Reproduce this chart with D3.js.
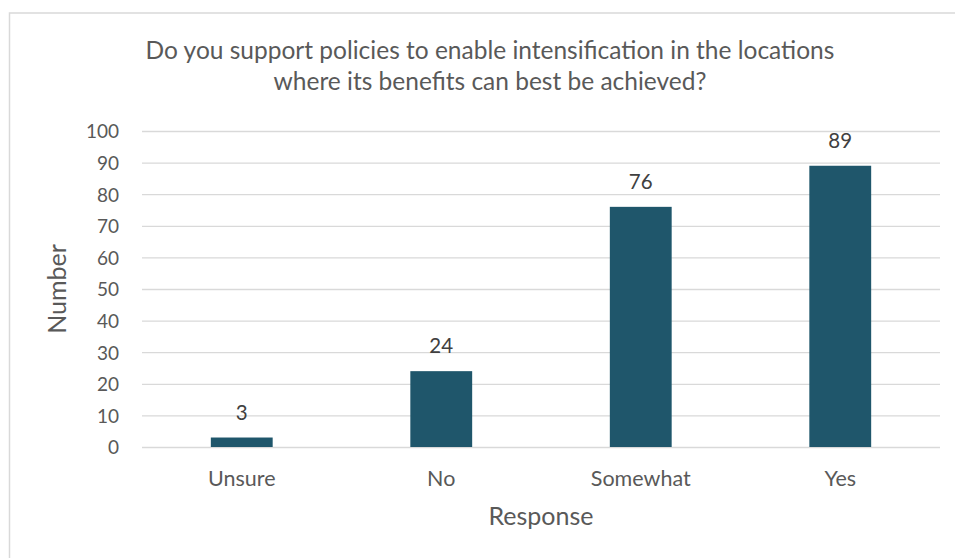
<!DOCTYPE html>
<html>
<head>
<meta charset="utf-8">
<script src="https://cdn.jsdelivr.net/npm/d3@7"></script>
<style>
  html, body { margin: 0; padding: 0; background: #fff; }
  svg { display: block; font-family: Lato, "Open Sans", sans-serif; }
</style>
</head>
<body>
<svg id="chart" width="955" height="558"></svg>
<script>
// Survey responses
const categories = ["Unsure", "No", "Somewhat", "Yes"];
const counts = [3, 24, 76, 89];
const yTicks = [0, 10, 20, 30, 40, 50, 60, 70, 80, 90, 100];
const titleLines = [
  "Do you support policies to enable intensification in the locations",
  "where its benefits can best be achieved?"
];

const svg = d3.select("#chart");
const W = 955, H = 558;
const plot = { left: 142, right: 940, top: 131, bottom: 447 };
const textColor = "#595959";
const barColor = "#1F566B";
const gridColor = "#D9D9D9";

// Chart area frame (extends past the right and bottom edges)
svg.append("rect")
  .attr("x", 9.5).attr("y", 13)
  .attr("width", W + 20).attr("height", H + 20)
  .attr("fill", "#fff")
  .attr("stroke", "#D9D9D9").attr("stroke-width", 1.5);

const x = d3.scaleBand()
  .domain(categories)
  .range([plot.left, plot.right])
  .paddingInner(0.69).paddingOuter(0.345);

const y = d3.scaleLinear().domain([0, 100]).range([plot.bottom, plot.top]);

// Horizontal gridlines + y tick labels
const yAxis = d3.axisLeft(y)
  .tickValues(yTicks)
  .tickSize(-(plot.right - plot.left))
  .tickPadding(23);

const gy = svg.append("g")
  .attr("transform", `translate(${plot.left},0)`)
  .call(yAxis);
gy.select(".domain").remove();
gy.selectAll(".tick line").attr("stroke", gridColor).attr("stroke-width", 1.3);
gy.selectAll(".tick text")
  .attr("fill", textColor)
  .attr("font-size", 19)
  .attr("font-family", "Lato, sans-serif")
  .attr("dy", "0.36em");

// Bars
svg.append("g").selectAll("rect")
  .data(categories)
  .join("rect")
  .attr("x", d => x(d))
  .attr("width", x.bandwidth())
  .attr("y", (d, i) => y(counts[i]))
  .attr("height", (d, i) => y(0) - y(counts[i]))
  .attr("fill", barColor);

// Value labels
svg.append("g").selectAll("text")
  .data(categories)
  .join("text")
  .attr("x", d => x(d) + x.bandwidth() / 2)
  .attr("y", (d, i) => y(counts[i]) - 18)
  .attr("text-anchor", "middle")
  .attr("fill", "#404040")
  .attr("font-size", 20.5)
  .text((d, i) => counts[i]);

// Category axis
const xAxis = d3.axisBottom(x).tickSize(0);
const gx = svg.append("g")
  .attr("transform", `translate(0,${plot.bottom})`)
  .call(xAxis);
gx.select(".domain").remove();
gx.selectAll(".tick text")
  .attr("fill", textColor)
  .attr("font-size", 21.5)
  .attr("font-family", "Lato, sans-serif")
  .attr("y", 39)
  .attr("dy", 0);

// Axis titles
svg.append("text")
  .attr("x", (plot.left + plot.right) / 2)
  .attr("y", 525)
  .attr("text-anchor", "middle")
  .attr("fill", textColor)
  .attr("font-size", 25)
  .text("Response");

svg.append("text")
  .attr("transform", `translate(66,${(plot.top + plot.bottom) / 2}) rotate(-90)`)
  .attr("text-anchor", "middle")
  .attr("fill", textColor)
  .attr("font-size", 25)
  .text("Number");

// Title
svg.append("g").selectAll("text")
  .data(titleLines)
  .join("text")
  .attr("x", 490)
  .attr("y", (d, i) => 59 + i * 31)
  .attr("text-anchor", "middle")
  .attr("fill", textColor)
  .attr("font-size", 24.5)
  .text(d => d);
</script>
</body>
</html>
